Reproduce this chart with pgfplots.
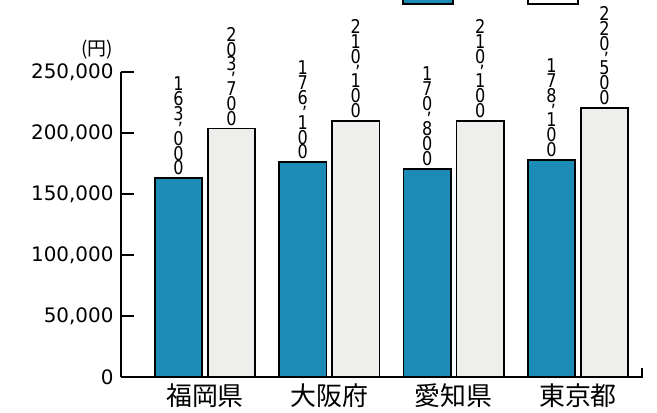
\documentclass[border=0pt]{standalone}
\usepackage{pgfplots}
\pgfplotsset{compat=1.18}
\usepackage{fontspec}
\setmainfont{DejaVu Sans}
\newfontfamily\jp{Noto Sans CJK JP}
\newfontfamily\narrow[FakeStretch=0.85]{DejaVu Sans}
\definecolor{barblue}{HTML}{1C8CB6}
\definecolor{bargray}{HTML}{EEEFEC}
\def\vnumA#1#2#3#4#5#6\relax{#1\\#2\\#3\\[-11bp]\kern4bp,\\[3.5bp]#4\\#5\\#6}
\begin{document}
\begin{tikzpicture}
\useasboundingbox (-121bp,-36bp) rectangle (536bp,377bp);
\begin{axis}[
  scale only axis,
  width=521bp, height=305bp,
  xmin=-0.6758, xmax=3.515,
  ymin=0, ymax=250000,
  clip=false,
  axis x line*=bottom, axis y line*=left,
  axis line style={line width=2.6bp, black},
  xtick={0,1,2,3},
  xticklabels={福岡県,大阪府,愛知県,東京都},
  x tick style={draw=none},
  xticklabel style={font=\jp\fontsize{26}{26}\selectfont, yshift=-3bp},
  ytick={0,50000,100000,150000,200000,250000},
  yticklabels={0,{50,000},{100,000},{150,000},{200,000},{250,000}},
  scaled y ticks=false,
  y tick style={line width=2.6bp, black},
  major tick length=13bp,
  ytick align=inside,
  yticklabel style={font=\fontsize{20}{20}\selectfont, xshift=-4bp},
  point meta=explicit symbolic,
  nodes near coords={\expandafter\vnumA\pgfplotspointmeta\relax},
  every node near coord/.append style={align=center, anchor=south, inner sep=0pt, yshift=2bp, font=\narrow\fontsize{19}{15}\selectfont},
]
\addplot[ybar, bar width=0.38, bar shift=0pt, fill=barblue, draw=black, line width=1.8bp]
  coordinates {(-0.2134,163000) [163000] (0.7866,176100) [176100] (1.7866,170800) [170800] (2.7866,178100) [178100]};
\addplot[ybar, bar width=0.38, bar shift=0pt, fill=bargray, draw=black, line width=1.8bp]
  coordinates {(0.2134,203700) [203700] (1.2134,210100) [210100] (2.2134,210100) [210100] (3.2134,220500) [220500]};
\node[font=\jp\fontsize{19}{19}\selectfont] at (rel axis cs:0,1) [xshift=-24bp, yshift=22bp] {(円)};
\end{axis}
\draw[line width=2.6bp] (521bp,-1.3bp) -- (521bp,9bp);
\draw[fill=barblue, line width=1.5bp] (282bp,373bp) rectangle (332bp,395bp);
\draw[fill=white, line width=1.5bp] (407bp,373bp) rectangle (457bp,395bp);
\end{tikzpicture}
\end{document}
